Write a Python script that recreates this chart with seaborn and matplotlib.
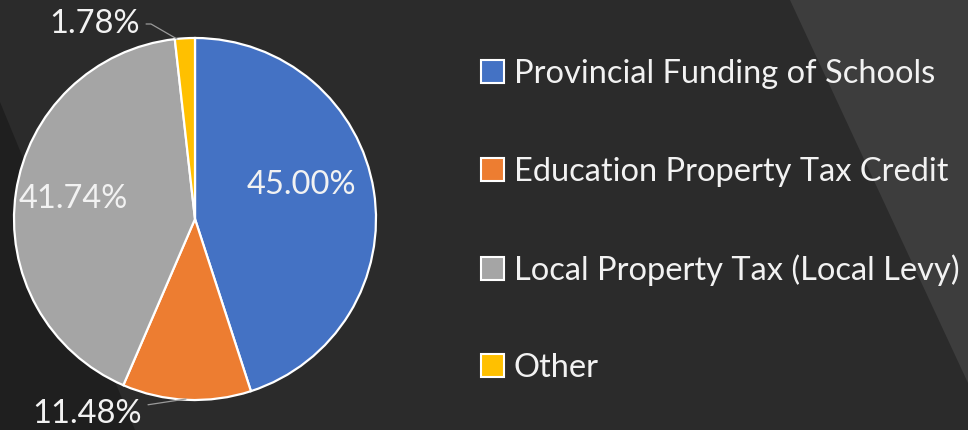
import matplotlib
matplotlib.use("Agg")
import matplotlib.pyplot as plt
from matplotlib.patches import Polygon, Patch
import seaborn as sns
import numpy as np

categories = ["Provincial Funding of Schools", "Education Property Tax Credit",
              "Local Property Tax (Local Levy)", "Other"]
values = [45.00, 11.48, 41.74, 1.78]
colors = ["#4472C4", "#ED7D31", "#A5A5A5", "#FFC000"]

sns.set_theme(style="dark")
plt.rcParams["font.family"] = ["Lato", "DejaVu Sans"]

BG = "#2b2b2b"
W, H = 968, 430
fig = plt.figure(figsize=(W / 100, H / 100), dpi=100, facecolor=BG)

# background decorative shapes (figure pixel coords -> fraction)
def fpoly(pts, color):
    p = Polygon([(x / W, 1 - y / H) for x, y in pts], closed=True,
                transform=fig.transFigure, facecolor=color, edgecolor="none", zorder=-5)
    fig.patches.append(p)

fpoly([(790, 0), (W, 0), (W, 383)], "#3d3d3d")
fpoly([(0, 102), (135, H), (0, H)], "#1f1f1f")

cx, cy, R = 195, 219, 181
ax = fig.add_axes([(cx - R) / W, (H - cy - R) / H, 2 * R / W, 2 * R / H])
ax.set_facecolor("none")
ax.set_zorder(2)

wedges, _ = ax.pie(values, colors=colors, startangle=90, counterclock=False,
                   radius=1.0,
                   wedgeprops=dict(edgecolor="white", linewidth=1.6))
ax.set_xlim(-1, 1)
ax.set_ylim(-1, 1)
ax.set_aspect("equal")
ax.axis("off")

TXT = "#f2f2f2"
fs = 23.5

def lab(v):
    return f"{v:.2f}%"

# inside labels
ax.text(106 / R, 34 / R, lab(values[0]), color=TXT, fontsize=fs, ha="center", va="center")
ax.text(-122 / R, 20 / R, lab(values[2]), color=TXT, fontsize=fs, ha="center", va="center")

# outside labels with leader lines
def to_ax(x, y):
    return ((x - cx) / R, (cy - y) / R)

ax.annotate(lab(values[3]), xy=to_ax(177, 39), xytext=to_ax(140, 24),
            color=TXT, fontsize=fs, ha="right", va="center", annotation_clip=False,
            arrowprops=dict(arrowstyle="-", color="#9a9a9a", lw=0.9,
                            connectionstyle="angle,angleA=0,angleB=150,rad=0",
                            shrinkA=2, shrinkB=0))
ax.annotate(lab(values[1]), xy=to_ax(186, 399), xytext=to_ax(142, 414),
            color=TXT, fontsize=fs, ha="right", va="center", annotation_clip=False,
            arrowprops=dict(arrowstyle="-", color="#9a9a9a", lw=0.9,
                            shrinkA=2, shrinkB=0))

lfs = 23.5
handles = [Patch(facecolor=c, edgecolor="white", linewidth=1.5) for c in colors]
leg = fig.legend(handles, categories, loc="upper left",
                 bbox_to_anchor=(481 / W, 1 - 59 / H), frameon=False,
                 fontsize=lfs, labelcolor=TXT, handlelength=0.7, handleheight=0.7,
                 handletextpad=0.3, labelspacing=2.07, borderpad=0, borderaxespad=0)

fig.savefig("out.png", dpi=100, facecolor=BG)
